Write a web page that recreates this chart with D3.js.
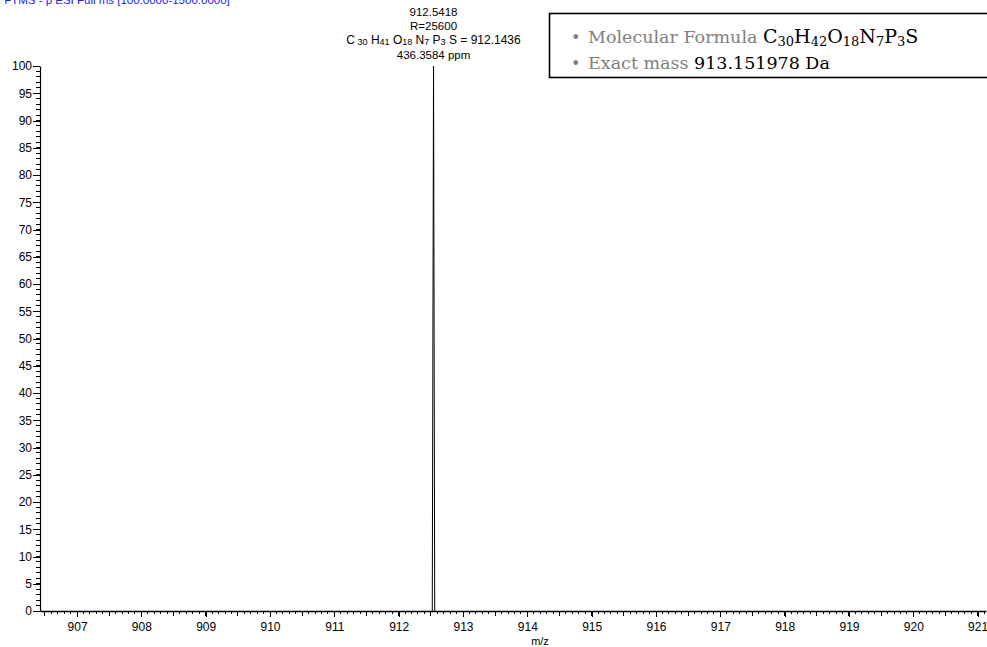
<!DOCTYPE html>
<html>
<head>
<meta charset="utf-8">
<script src="https://cdn.jsdelivr.net/npm/d3@7"></script>
<style>
  html, body { margin: 0; padding: 0; background: #fff; }
  svg { display: block; }
</style>
</head>
<body>
<svg id="chart" width="987" height="647"></svg>
<script>
// Profile of the single isotopic peak (m/z, relative abundance %)
const peakMz = [912.522, 912.5418, 912.560];
const peakIntensity = [0, 100, 0];

// Peak annotation lines
const peakLabel = "912.5418";
const resolutionLabel = "R=25600";
const formulaParts = [["C", ""], [" 30", "sub"], [" H", ""], ["41", "sub"], [" O", ""], ["18", "sub"],
                      [" N", ""], ["7", "sub"], [" P", ""], ["3", "sub"], [" S = 912.1436", ""]];
const ppmLabel = "436.3584 ppm";

// Axis ticks
const xTickValues = [907, 908, 909, 910, 911, 912, 913, 914, 915, 916, 917, 918, 919, 920, 921];
const yTickValues = [0, 5, 10, 15, 20, 25, 30, 35, 40, 45, 50, 55, 60, 65, 70, 75, 80, 85, 90, 95, 100];

// Info box
const infoFormula = [["C", ""], ["30", "sub"], ["H", ""], ["42", "sub"], ["O", ""], ["18", "sub"],
                     ["N", ""], ["7", "sub"], ["P", ""], ["3", "sub"], ["S", ""]];
const infoMass = "913.151978 Da";
const scanHeader = "T: FTMS - p ESI Full ms [100.0000-1500.0000]";

const svg = d3.select("#chart");
const sans = "'Liberation Sans', Arial, sans-serif";
const serif = "'DejaVu Serif', serif";

const x = d3.scaleLinear().domain([906.424, 921.13]).range([40, 986]);
const y = d3.scaleLinear().domain([0, 100]).range([611, 66]);

// Scan header (runs off the top edge)
svg.append("text")
  .attr("x", -8).attr("y", 4)
  .attr("font-family", sans).attr("font-size", 11.5)
  .attr("fill", "#1a1aff")
  .text(scanHeader);

// X axis: major ticks at integers, medium at .5, minor at .1
const xAxisG = svg.append("g").attr("transform", `translate(0,${y(0)})`);
const minorX = d3.range(9065, 9212).map(v => v / 10).filter(v => x(v) >= 40 && x(v) <= 986);
xAxisG.selectAll("line.minor").data(minorX).join("line")
  .attr("x1", d => x(d)).attr("x2", d => x(d))
  .attr("y1", 0).attr("y2", d => Math.abs(d * 2 - Math.round(d * 2)) < 1e-6 ? 4.5 : 3)
  .attr("stroke", "#000").attr("stroke-width", 1)
  .attr("shape-rendering", "crispEdges");
const xAxis = d3.axisBottom(x).tickValues(xTickValues).tickFormat(d3.format("d"))
  .tickSize(6).tickPadding(5).tickSizeOuter(0);
xAxisG.call(xAxis);
xAxisG.select(".domain").attr("stroke-width", 1.5);
xAxisG.selectAll(".tick line").attr("shape-rendering", "crispEdges");
xAxisG.selectAll(".tick text").attr("font-family", sans).attr("font-size", 12).attr("fill", "#000");

// Y axis: labelled every 5, minor every 1
const yAxisG = svg.append("g").attr("transform", `translate(${x.range()[0]},0)`);
yAxisG.selectAll("line.minor").data(d3.range(0, 101)).join("line")
  .attr("x1", -4).attr("x2", 0)
  .attr("y1", d => y(d)).attr("y2", d => y(d))
  .attr("stroke", "#000").attr("stroke-width", 1)
  .attr("shape-rendering", "crispEdges");
const yAxis = d3.axisLeft(y).tickValues(yTickValues).tickFormat(d3.format("d"))
  .tickSize(7).tickPadding(1).tickSizeOuter(0);
yAxisG.call(yAxis);
yAxisG.select(".domain").attr("stroke-width", 1.2);
yAxisG.selectAll(".tick line").attr("shape-rendering", "crispEdges");
yAxisG.selectAll(".tick text").attr("font-family", sans).attr("font-size", 12).attr("fill", "#000");

// Axis title
svg.append("text")
  .attr("x", 540).attr("y", 645)
  .attr("text-anchor", "middle")
  .attr("font-family", sans).attr("font-size", 11)
  .text("m/z");

// Spectrum profile
const line = d3.line().x(d => x(d[0])).y(d => y(d[1]));
svg.append("path")
  .datum(peakMz.map((m, i) => [m, peakIntensity[i]]))
  .attr("d", line)
  .attr("fill", "none").attr("stroke", "#000").attr("stroke-width", 1);

// Peak annotation
const apexX = x(peakMz[d3.maxIndex(peakIntensity)]);
const annot = svg.append("g").attr("font-family", sans).attr("font-size", 11.5)
  .attr("text-anchor", "middle").attr("fill", "#000");
annot.append("text").attr("x", apexX).attr("y", 16).text(peakLabel);
annot.append("text").attr("x", apexX).attr("y", 29.5).text(resolutionLabel);
const fText = annot.append("text").attr("x", apexX).attr("y", 44).attr("font-size", 12);
formulaParts.forEach(([t, kind], i) => {
  const prevSub = i > 0 && formulaParts[i - 1][1] === "sub";
  fText.append("tspan")
    .attr("font-size", kind === "sub" ? 9 : 12)
    .attr("dy", kind === "sub" ? 1 : (prevSub ? -1 : 0))
    .text(t);
});
annot.append("text").attr("x", apexX).attr("y", 58.5).text(ppmLabel);

// Info box
const box = svg.append("g");
box.append("rect")
  .attr("x", 549.5).attr("y", 13.5).attr("width", 450).attr("height", 64)
  .attr("fill", "#fff").attr("stroke", "#000").attr("stroke-width", 1.6);
const grey = "#7f7f7f";
const fs = 17.5;
function bullet(yy) {
  box.append("text").attr("x", 571).attr("y", yy).attr("font-family", serif)
    .attr("font-size", 16).attr("fill", grey).text("\u2022");
}
bullet(43);
bullet(69);
const l1 = box.append("text").attr("x", 588).attr("y", 43).attr("font-family", serif).attr("font-size", fs);
l1.append("tspan").attr("fill", grey).text("Molecular Formula ");
infoFormula.forEach(([t, kind], i) => {
  const prevSub = i > 0 && infoFormula[i - 1][1] === "sub";
  l1.append("tspan").attr("fill", "#000")
    .attr("font-size", kind === "sub" ? 13 : 19)
    .attr("dy", kind === "sub" ? 3 : (prevSub ? -3 : 0))
    .text(t);
});
const l2 = box.append("text").attr("x", 588).attr("y", 69).attr("font-family", serif).attr("font-size", fs);
l2.append("tspan").attr("fill", grey).text("Exact mass ");
l2.append("tspan").attr("fill", "#000").text(infoMass);
</script>
</body>
</html>
